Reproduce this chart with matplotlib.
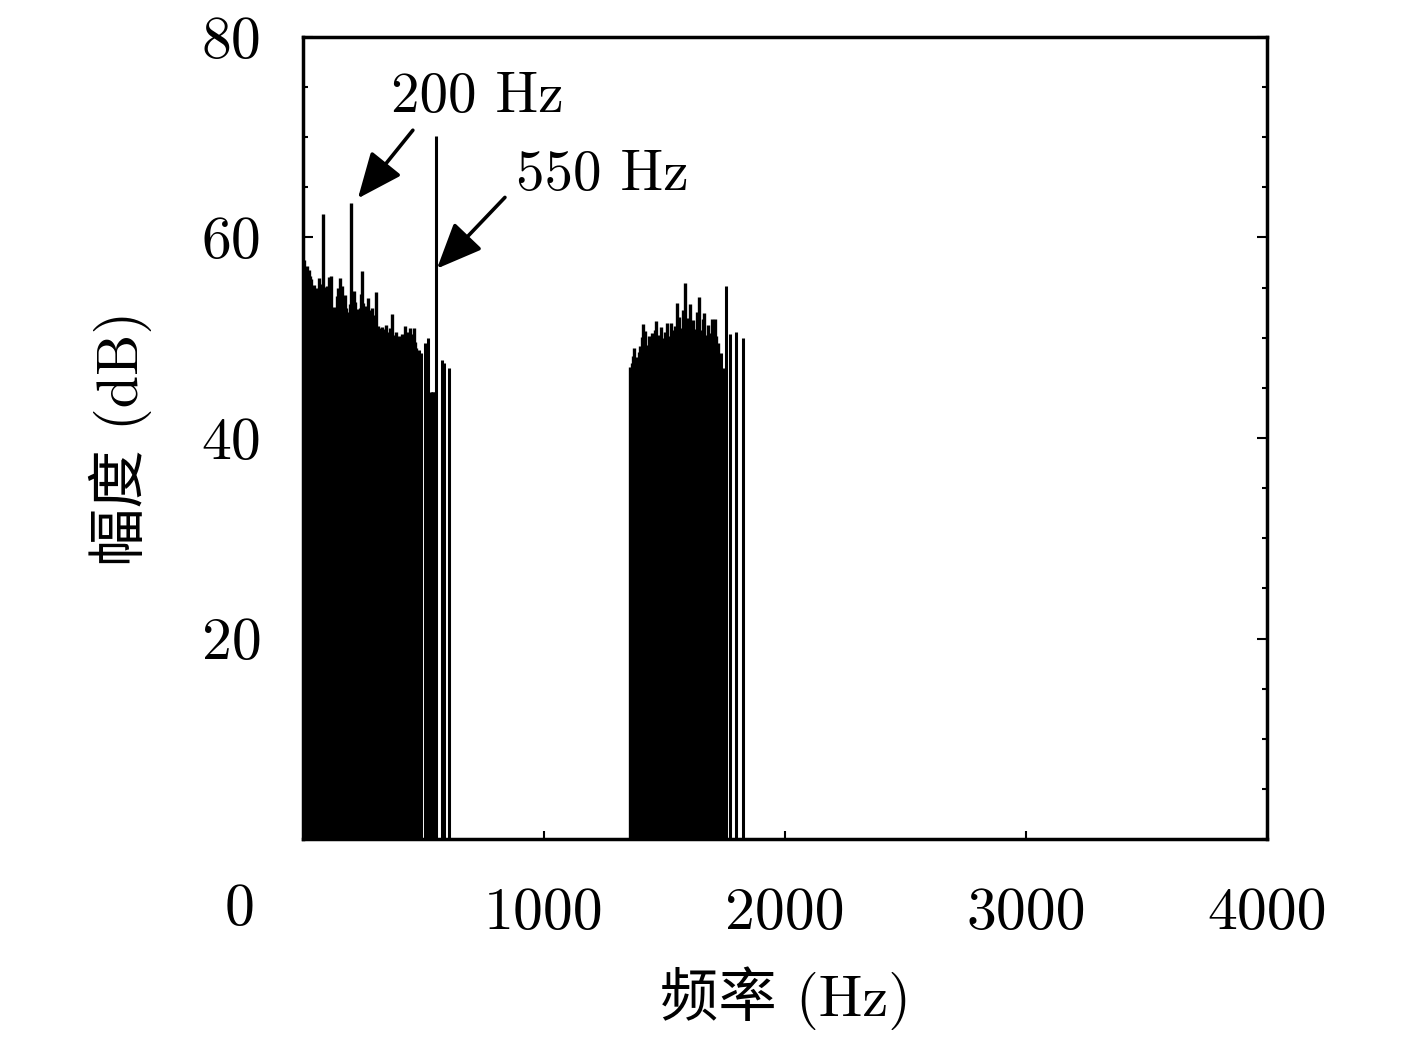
import matplotlib
matplotlib.use("Agg")
import matplotlib.pyplot as plt
import numpy as np
from matplotlib.ticker import MultipleLocator

plt.rcParams['font.family'] = ['cmr10', 'Noto Sans CJK SC', 'DejaVu Sans']
plt.rcParams['axes.unicode_minus'] = False
plt.rcParams['mathtext.fontset'] = 'cm'

# low band, 0..470 Hz every 5 Hz (dB)
low_start, step = 0, 5
low_db = [
    57.5, 57.8, 56.9, 57.2, 53.6, 56.8, 56.2, 55.9, 53.4, 55.3,
    53.7, 54.2, 55.0, 56.0, 54.8, 53.2, 55.4, 62.3, 55.1, 54.6,
    55.2, 52.8, 56.1, 56.2, 52.4, 52.9, 53.1, 52.6, 54.2, 55.0,
    53.5, 56.0, 55.2, 54.1, 52.3, 54.3, 53.0, 52.6, 51.9, 53.4,
    63.4, 52.8, 54.7, 53.6, 52.1, 52.9, 51.8, 53.0, 54.4, 56.7,
    53.5, 51.2, 53.2, 52.0, 54.0, 51.4, 52.8, 53.0, 50.9, 51.6,
    52.3, 54.6, 51.2, 50.5, 51.0, 50.7, 51.1, 50.4, 50.9, 51.3,
    50.6, 50.2, 51.0, 50.5, 52.4, 49.8, 50.3, 50.6, 49.9, 50.1,
    50.2, 49.6, 50.4, 49.7, 49.9, 51.2, 50.6, 50.0, 49.5, 51.0,
    50.4, 49.3, 51.0, 49.6, 49.0,
]
# separate lines after the low band
low_tail_f = [481, 490, 506, 519, 531, 536, 541, 546, 551, 577, 585, 606]
low_tail_db = [48.8, 48.5, 49.5, 50.0, 44.6, 44.6, 44.6, 44.6, 70.1, 47.8, 47.5, 47.0]

# high band, 1355..1720 Hz every 5 Hz (dB)
high_start = 1355
high_db = [
    47.1, 46.8, 47.5, 48.2, 49.0, 47.6, 48.1, 47.3, 48.6, 49.2,
    50.1, 51.4, 49.5, 50.7, 48.9, 49.3, 50.2, 49.0, 49.8, 50.5,
    49.4, 50.8, 51.7, 49.6, 50.3, 49.5, 51.1, 50.0, 49.7, 50.6,
    49.8, 51.5, 50.2, 49.6, 51.5, 50.4, 49.9, 50.8, 51.2, 53.5,
    50.6, 52.1, 50.2, 51.0, 52.8, 50.5, 55.5, 51.4, 52.0, 50.7,
    53.4, 51.1, 50.3, 51.8, 50.9, 50.2, 52.6, 51.0, 54.1, 50.8,
    50.4, 51.9, 52.5, 50.3, 50.0, 51.3, 49.8, 50.5, 51.9, 50.1,
    49.7, 51.9, 50.2, 49.5,
]
high_tail_f = [1735, 1743, 1755, 1772, 1797, 1826]
high_tail_db = [48.5, 47.0, 55.2, 50.4, 50.6, 50.0]

low_f = low_start + step * np.arange(len(low_db))
high_f = high_start + step * np.arange(len(high_db))

fig = plt.figure(figsize=(14.17, 10.42), dpi=100)
ax = fig.add_axes([0.2138, 0.1948, 0.6804, 0.7697])

ax.vlines(low_f, 0, low_db, color='black', linewidth=2.4)
ax.vlines(high_f, 0, high_db, color='black', linewidth=2.4)
ax.vlines(low_tail_f, 0, low_tail_db, color='black', linewidth=2.2)
ax.vlines(high_tail_f, 0, high_tail_db, color='black', linewidth=2.2)

ax.set_xlim(0, 4000)
ax.set_ylim(0, 80)

ax.set_xticks([1000, 2000, 3000, 4000])
ax.set_xticklabels(['1000', '2000', '3000', '4000'])
ax.set_yticks([20, 40, 60, 80])
ax.set_yticklabels(['20', '40', '60', '80'])
ax.yaxis.set_minor_locator(MultipleLocator(5))

ax.tick_params(axis='x', which='both', direction='in', length=6, width=1.5,
               labelsize=43, pad=35, top=False)
ax.tick_params(axis='y', which='major', direction='in', length=7, width=1.5,
               labelsize=43, pad=30, left=True, right=True)
ax.tick_params(axis='y', which='minor', direction='in', length=3.5, width=1.5,
               left=True, right=True)
for s in ax.spines.values():
    s.set_linewidth(2.5)

fig.text(0.1694, 0.1267, '0', fontsize=43, ha='center', va='center')

ax.set_xlabel('频率 (Hz)', fontsize=42, labelpad=18)
ax.set_ylabel('幅度 (dB)', fontsize=42, labelpad=36)

arrow = dict(arrowstyle='-|>,head_length=1.4,head_width=0.6', color='black',
             lw=2.6, mutation_scale=20, shrinkA=0, shrinkB=0)
ax.annotate('', xy=(228, 63.9), xytext=(456, 70.7), arrowprops=arrow)
ax.annotate('', xy=(556, 56.9), xytext=(838, 64.0), arrowprops=arrow)
ax.text(722, 74.0, '200 Hz', fontsize=41, ha='center', va='center')
ax.text(1241, 66.2, '550 Hz', fontsize=41, ha='center', va='center')

fig.savefig('out.png', dpi=100)
